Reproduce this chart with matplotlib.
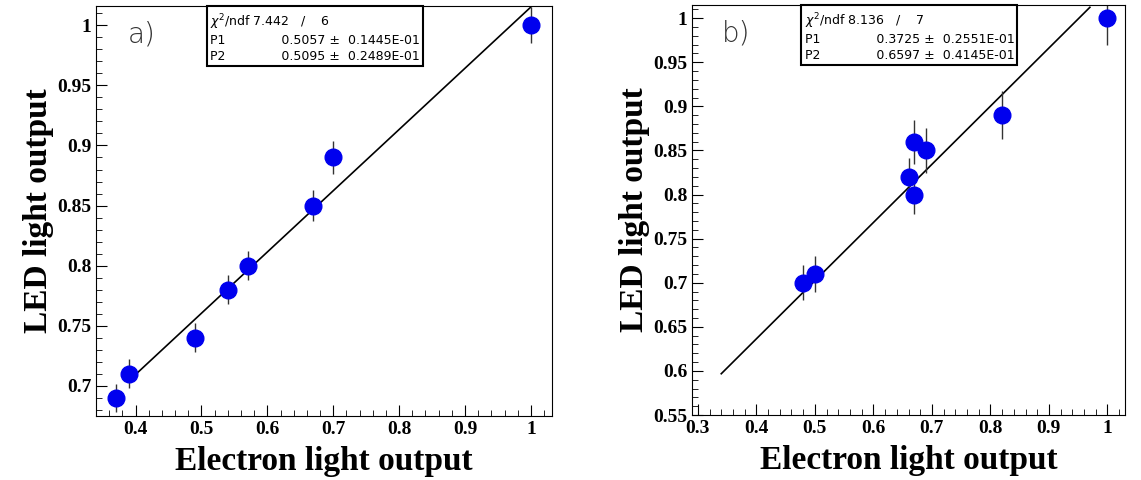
import numpy as np
import matplotlib.pyplot as plt

xa = [0.37, 0.39, 0.49, 0.54, 0.57, 0.67, 0.70, 1.00]
ya = [0.69, 0.71, 0.74, 0.78, 0.80, 0.85, 0.89, 1.00]
ea = [0.012, 0.012, 0.012, 0.012, 0.012, 0.013, 0.014, 0.015]
pa = (0.5057, 0.5095)

xb = [0.48, 0.50, 0.66, 0.67, 0.67, 0.69, 0.82, 1.00]
yb = [0.70, 0.71, 0.82, 0.86, 0.80, 0.85, 0.89, 1.00]
eb = [0.02, 0.02, 0.022, 0.025, 0.022, 0.025, 0.027, 0.03]
pb = (0.3725, 0.6597)

serif = {'family': 'Liberation Serif', 'weight': 'bold'}
fig = plt.figure(figsize=(11.41, 4.8), dpi=100)
axa = fig.add_axes([96/1141, 1-416/480, 456/1141, 410/480])
axb = fig.add_axes([692/1141, 1-415/480, 433/1141, 410/480])

def panel(ax, x, y, e, p, xlim, ylim, xfit, yt, label, stat, sx):
    ax.errorbar(x, y, yerr=e, fmt='none', ecolor='#333333', lw=1, zorder=2)
    ax.plot(x, y, 'o', color='#0000ee', ms=12, zorder=3)
    xf = np.array(xfit)
    ax.plot(xf, p[0] + p[1]*xf, color='black', lw=1.2, zorder=1)
    ax.set_xticks([0.3, 0.4, 0.5, 0.6, 0.7, 0.8, 0.9, 1.0])
    ax.set_xticklabels(['0.3', '0.4', '0.5', '0.6', '0.7', '0.8', '0.9', '1'])
    ax.set_yticks(yt)
    ax.set_yticklabels([('%g' % v) for v in yt])
    ax.set_xlim(xlim)
    ax.set_ylim(ylim)
    ax.minorticks_on()
    ax.tick_params(which='both', direction='in', top=False, right=False)
    ax.tick_params(which='major', length=8)
    ax.tick_params(which='minor', length=4)
    for t in ax.get_xticklabels() + ax.get_yticklabels():
        t.set_fontfamily('Liberation Serif'); t.set_fontweight('bold'); t.set_fontsize(14)
    ax.set_xlabel('Electron light output', fontdict=serif, fontsize=24, labelpad=6)
    ax.set_ylabel('LED light output', fontdict=serif, fontsize=24, labelpad=2)
    ax.text(0.07, 0.91, label, transform=ax.transAxes, fontsize=20, color='#333333', fontweight='light')
    ax.text(sx, 0.985, stat, transform=ax.transAxes, fontsize=9, family='DejaVu Sans',
            va='top', linespacing=1.25,
            bbox=dict(boxstyle='square,pad=0.25', fc='white', ec='black', lw=1.5))

panel(axa, xa, ya, ea, pa, (0.34, 1.032), (0.675, 1.016), [0.40, 1.0],
      [0.7, 0.75, 0.8, 0.85, 0.9, 0.95, 1.0], 'a)',
      '$\\chi^2$/ndf 7.442   /    6            \nP1              0.5057 ±  0.1445E-01\nP2              0.5095 ±  0.2489E-01', 0.25)
panel(axb, xb, yb, eb, pb, (0.29, 1.03), (0.55, 1.015), [0.34, 0.97],
      [0.55, 0.6, 0.65, 0.7, 0.75, 0.8, 0.85, 0.9, 0.95, 1.0], 'b)',
      '$\\chi^2$/ndf 8.136   /    7            \nP1              0.3725 ±  0.2551E-01\nP2              0.6597 ±  0.4145E-01', 0.26)

fig.savefig('out.png', dpi=100)
